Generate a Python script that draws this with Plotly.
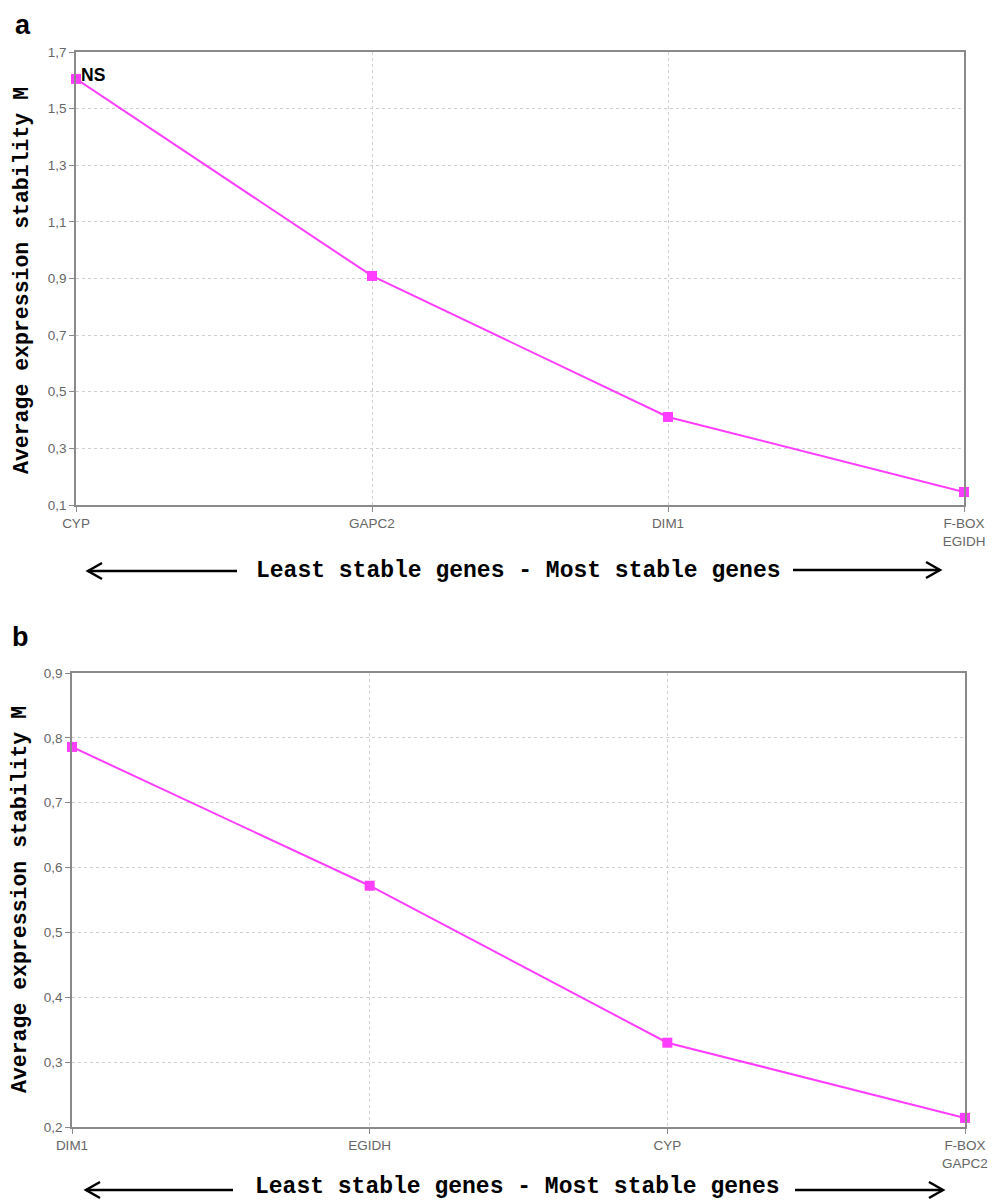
import plotly.graph_objects as go

W, H = 997, 1202
OFF = 8  # page body margin of the browser

genes_a = ["CYP", "GAPC2", "DIM1", "F-BOX<br>EGIDH"]
m_a = [1.605, 0.909, 0.411, 0.146]
yticks_a = [0.1, 0.3, 0.5, 0.7, 0.9, 1.1, 1.3, 1.5, 1.7]

genes_b = ["DIM1", "EGIDH", "CYP", "F-BOX<br>GAPC2"]
m_b = [0.786, 0.572, 0.330, 0.214]
yticks_b = [0.2, 0.3, 0.4, 0.5, 0.6, 0.7, 0.8, 0.9]

LINE = "#ff3dff"
AX = "#8a8a8a"
GRID = "#cfcfcf"
TICKFONT = dict(family="Liberation Sans, Arial", size=13.5, color="#666666")
MONO = "Liberation Mono, Courier New, monospace"


def px(x):
    return (x - OFF) / W


def py(y):
    return 1 - (y - OFF) / H


fig = go.Figure()
fig.add_trace(go.Scatter(x=list(range(len(genes_a))), y=m_a, mode="lines+markers",
                         line=dict(color=LINE, width=2),
                         marker=dict(symbol="square", size=10, color=LINE),
                         cliponaxis=False, xaxis="x", yaxis="y", showlegend=False))
fig.add_trace(go.Scatter(x=list(range(len(genes_b))), y=m_b, mode="lines+markers",
                         line=dict(color=LINE, width=2),
                         marker=dict(symbol="square", size=10, color=LINE),
                         cliponaxis=False, xaxis="x2", yaxis="y2", showlegend=False))

xcommon = dict(showline=True, linecolor=AX, linewidth=1.5, mirror=True,
               ticks="outside", ticklen=5, tickcolor=AX, automargin=False,
               showgrid=True, gridcolor=GRID, griddash="3px,3px", gridwidth=1,
               zeroline=False, tickfont=TICKFONT, range=[0, 3],
               tickvals=[0, 1, 2, 3])
ycommon = dict(showline=True, linecolor=AX, linewidth=1.5, mirror=True,
               ticks="outside", ticklen=5, tickcolor=AX, automargin=False,
               showgrid=True, gridcolor=GRID, griddash="3px,3px", gridwidth=1,
               zeroline=False, tickfont=TICKFONT, tickformat=".1f")

fig.update_layout(
    width=W, height=H, autosize=False,
    margin=dict(l=0, r=0, t=0, b=0, pad=0, autoexpand=False),
    paper_bgcolor="white", plot_bgcolor="white",
    separators=",.",
    xaxis=dict(xcommon, domain=[px(76), px(964)], anchor="y",
               ticktext=genes_a),
    yaxis=dict(ycommon, domain=[py(505), py(52)], anchor="x",
               range=[0.1, 1.7], tickvals=yticks_a),
    xaxis2=dict(xcommon, domain=[px(72), px(965)], anchor="y2",
                ticktext=genes_b),
    yaxis2=dict(ycommon, domain=[py(1127), py(673)], anchor="x2",
                range=[0.2, 0.9], tickvals=yticks_b),
)


def label(text, x, y, font, angle=0):
    return dict(text=text, x=px(x), y=py(y), xref="paper", yref="paper",
                xanchor="center", yanchor="middle", textangle=angle,
                showarrow=False, font=font)


PANEL = dict(family="Liberation Sans, Arial", size=27, color="black")
annotations = [
    label("<b>a</b>", 23, 25, PANEL),
    label("<b>b</b>", 20, 637, PANEL),
    dict(text="<b>NS</b>", x=0, y=m_a[0], xref="x", yref="y", xanchor="left",
         yanchor="middle", xshift=3, yshift=4, showarrow=False,
         font=dict(family="Liberation Sans, Arial", size=17.5, color="black")),
    label("<b>Average expression stability M</b>", 22, 281,
          dict(family=MONO, size=21.5, color="black"), -90),
    label("<b>Average expression stability M</b>", 20, 900,
          dict(family=MONO, size=21.5, color="black"), -90),
    label("<b>Least stable genes - Most stable genes</b>", 519, 571,
          dict(family=MONO, size=23, color="black")),
    label("<b>Least stable genes - Most stable genes</b>", 517, 1187,
          dict(family=MONO, size=23, color="black")),
]
fig.update_layout(annotations=annotations)


def arrow(x0, x1, y, direction):
    shapes = [dict(type="line", xref="paper", yref="paper",
                   x0=px(x0), x1=px(x1), y0=py(y), y1=py(y),
                   line=dict(color="black", width=2.5))]
    hx = x0 if direction < 0 else x1
    d = 14 * (-direction)
    path = f"M {px(hx + d)} {py(y - 8)} L {px(hx)} {py(y)} L {px(hx + d)} {py(y + 8)}"
    shapes.append(dict(type="path", xref="paper", yref="paper", path=path,
                       line=dict(color="black", width=2.5)))
    return shapes


shapes = []
shapes += arrow(88, 237, 571, -1)
shapes += arrow(793, 940, 570, 1)
shapes += arrow(86, 233, 1190, -1)
shapes += arrow(795, 943, 1190, 1)
fig.update_layout(shapes=shapes)

fig.write_html("out.html")
